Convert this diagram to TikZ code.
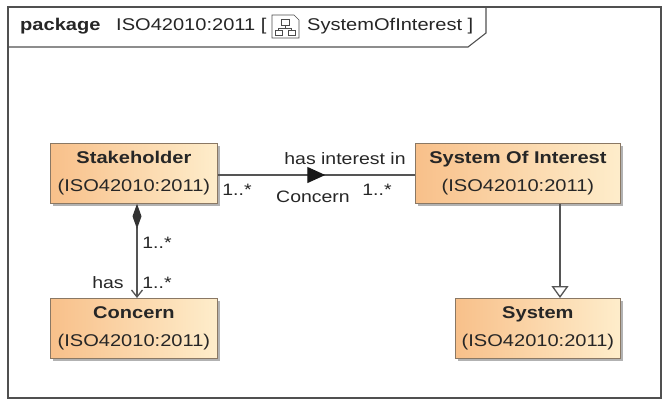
\documentclass[tikz,border=0pt]{standalone}
\usepackage{fontspec}
\setmainfont[FakeStretch=1.18]{Liberation Sans}
\usetikzlibrary{shadows,arrows.meta,decorations.markings}
\definecolor{boxL}{HTML}{F8C08A}
\definecolor{boxR}{HTML}{FEEDCB}
\definecolor{edgec}{HTML}{555555}
\definecolor{boxline}{HTML}{8A7864}
\definecolor{framec}{HTML}{505050}
\begin{document}
\begin{tikzpicture}[x=1pt,y=-1pt,
  cls/.style={draw=boxline, line width=0.8pt, left color=boxL, right color=boxR,
    minimum height=60pt, inner sep=0pt, anchor=north west, align=center,
    font=\fontsize{17}{28}\selectfont, text=black!85,
    drop shadow={shadow xshift=3pt, shadow yshift=-3pt, fill=black, opacity=0.3}},
  lab/.style={font=\fontsize{16.5}{18}\selectfont, text=black!85, inner sep=0pt},
  conn/.style={draw=edgec, line width=1.3pt},
  frm/.style={draw=framec, line width=1.1pt},
  ttl/.style={font=\fontsize{17}{18}\selectfont, text=black!85, inner sep=0pt, anchor=base west}]
\useasboundingbox (0,0) rectangle (671,407);
% frame
\draw[frm] (8,7) rectangle (661,398);
\draw[frm] (8,47) -- (468,47) -- (486,33) -- (486,7);
\node[ttl] (tpk) at (20,30) {\bfseries package};
\node[ttl] (tid) at (116,30) {ISO42010:2011 [};
\node[ttl] (tnm) at (307,30) {SystemOfInterest ]};
% icon
\draw[draw=black!70, line width=0.7pt] (272,15) -- (294,15) -- (299,20) -- (299,38) -- (272,38) -- cycle;
\draw[draw=black!70, line width=0.6pt] (281,19) rectangle (289,25);
\draw[draw=black!70, line width=0.6pt] (285,25) -- (285,28) (278.5,28) -- (291.5,28) (278.5,28) -- (278.5,30) (291.5,28) -- (291.5,30);
\draw[draw=black!70, line width=0.6pt] (275,30) rectangle (282,35);
\draw[draw=black!70, line width=0.6pt] (288,30) rectangle (295,35);
% classes
\node[cls, minimum width=167pt] (sh) at (50,143) {\textbf{Stakeholder}\\(ISO42010:2011)};
\node[cls, minimum width=167pt] (con) at (50,298) {\textbf{Concern}\\(ISO42010:2011)};
\node[cls, minimum width=205pt] (soi) at (415,143) {\textbf{System Of Interest}\\(ISO42010:2011)};
\node[cls, minimum width=165pt] (sys) at (455,298) {\textbf{System}\\(ISO42010:2011)};
% association Stakeholder - System Of Interest
\draw[conn, postaction={decorate}, decoration={markings,
   mark=at position 0.545 with {\arrow{Triangle[length=18pt,width=16pt,color=black!90]}}}]
  (sh.east |- 0,175) -- (soi.west |- 0,175);
\node[lab] (l1) at (345,159) {has interest in};
\node[lab] (l2) at (237,190) {1..*};
\node[lab] (l3) at (313,197) {Concern};
\node[lab] (l4) at (377,190) {1..*};
% composition Stakeholder - Concern
\draw[conn, {Diamond[length=25pt,width=9pt,color=black!80]}-{Straight Barb[length=7pt,width=11pt]}]
  (sh.south -| 137,0) -- (con.north -| 137,0);
\node[lab] (l5) at (157,243) {1..*};
\node[lab] (l6) at (108,283) {has};
\node[lab] (l7) at (157,283) {1..*};
% generalization
\draw[conn, -{Triangle[open,length=12pt,width=17pt,fill=white]}]
  (soi.south -| 560,0) -- (sys.north -| 560,0);
\end{tikzpicture}
\end{document}
